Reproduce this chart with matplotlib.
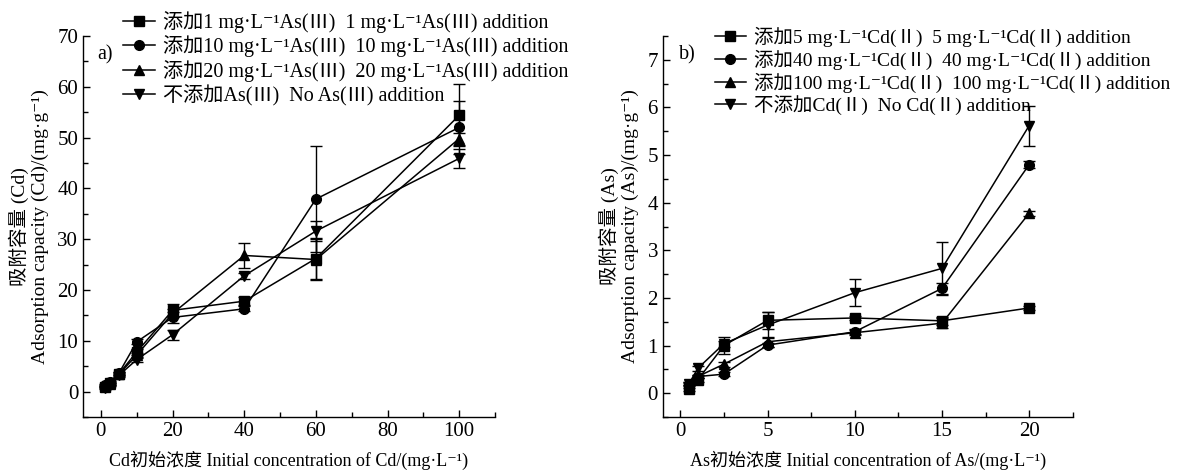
import matplotlib
matplotlib.use("Agg")
import matplotlib.pyplot as plt
from matplotlib.ticker import MultipleLocator

plt.rcParams['font.family'] = ['Liberation Serif', 'Noto Sans CJK SC', 'DejaVu Serif']
plt.rcParams['axes.unicode_minus'] = False

# ---------------- Panel a data ----------------
xa = [1, 2.5, 5, 10, 20, 40, 60, 100]
a_labels = ["添加1 mg·L⁻¹As(Ⅲ)  1 mg·L⁻¹As(Ⅲ) addition",
            "添加10 mg·L⁻¹As(Ⅲ)  10 mg·L⁻¹As(Ⅲ) addition",
            "添加20 mg·L⁻¹As(Ⅲ)  20 mg·L⁻¹As(Ⅲ) addition",
            "不添加As(Ⅲ)  No As(Ⅲ) addition"]
a_sq = [1.0, 1.6, 3.5, 7.8, 16.0, 17.8, 26.2, 54.4]
a_ci = [1.3, 1.8, 3.6, 9.8, 14.6, 16.3, 37.9, 52.0]
a_tr = [1.1, 1.5, 3.4, 7.2, 15.4, 26.8, 26.0, 49.8]
a_dn = [0.7, 1.3, 3.2, 6.3, 11.2, 22.8, 31.6, 45.9]
a_sq_err = [0.2, 0.2, 0.3, 0.5, 1.3, 0.8, 4.0, 6.1]
a_ci_err = [0.2, 0.2, 0.3, 0.5, 1.0, 0.5, 10.4, 5.2]
a_tr_err = [0.2, 0.2, 0.3, 0.5, 0.8, 2.5, 4.0, 1.2]
a_dn_err = [0.2, 0.2, 0.3, 0.5, 1.0, 0.6, 2.0, 1.8]

# ---------------- Panel b data ----------------
xb = [0.5, 1, 2.5, 5, 10, 15, 20]
b_labels = ["添加5 mg·L⁻¹Cd(Ⅱ)  5 mg·L⁻¹Cd(Ⅱ) addition",
            "添加40 mg·L⁻¹Cd(Ⅱ)  40 mg·L⁻¹Cd(Ⅱ) addition",
            "添加100 mg·L⁻¹Cd(Ⅱ)  100 mg·L⁻¹Cd(Ⅱ) addition",
            "不添加Cd(Ⅱ)  No Cd(Ⅱ) addition"]
b_sq = [0.08, 0.28, 1.00, 1.53, 1.58, 1.52, 1.79]
b_ci = [0.18, 0.35, 0.40, 1.01, 1.29, 2.20, 4.80]
b_tr = [0.20, 0.35, 0.61, 1.08, 1.27, 1.47, 3.78]
b_dn = [0.20, 0.52, 1.04, 1.43, 2.11, 2.62, 5.62]
b_sq_err = [0.03, 0.04, 0.17, 0.18, 0.04, 0.08, 0.05]
b_ci_err = [0.03, 0.04, 0.04, 0.05, 0.05, 0.12, 0.08]
b_tr_err = [0.03, 0.04, 0.05, 0.10, 0.05, 0.10, 0.05]
b_dn_err = [0.03, 0.05, 0.06, 0.28, 0.28, 0.55, 0.42]

markers = ['s', 'o', '^', 'v']

fig = plt.figure(figsize=(12.03, 4.71), dpi=100)
axa = fig.add_axes([0.069, 0.1146, 0.3425, 0.809])
axb = fig.add_axes([0.551, 0.1146, 0.3408, 0.809])


def style(ax):
    for s in ['top', 'right']:
        ax.spines[s].set_visible(False)
    for s in ['left', 'bottom']:
        ax.spines[s].set_linewidth(1.0)
    ax.tick_params(which='major', direction='in', length=5, width=1.0, labelsize=15)
    ax.tick_params(which='minor', direction='in', length=3.5, width=1.0)


def draw(ax, x, series, errs, labels):
    for y, e, m, lab in zip(series, errs, markers, labels):
        ax.errorbar(x, y, yerr=e, color='black', marker=m, markersize=7,
                    linewidth=1.1, elinewidth=1.0, capsize=4, capthick=1.0,
                    label=lab)


leg_kw = dict(loc='upper left', frameon=False, handlelength=1.6,
              handletextpad=0.4, labelspacing=0.13, borderpad=0.0, borderaxespad=0.0)

draw(axa, xa, [a_sq, a_ci, a_tr, a_dn], [a_sq_err, a_ci_err, a_tr_err, a_dn_err], a_labels)
style(axa)
axa.set_xlim(-5, 110)
axa.set_ylim(-5, 70)
axa.xaxis.set_major_locator(MultipleLocator(20))
axa.xaxis.set_minor_locator(MultipleLocator(10))
axa.yaxis.set_major_locator(MultipleLocator(10))
axa.yaxis.set_minor_locator(MultipleLocator(5))
axa.set_xlabel("Cd初始浓度 Initial concentration of Cd/(mg·L⁻¹)", fontsize=13, labelpad=7)
axa.set_ylabel("吸附容量 (Cd)\nAdsorption capacity (Cd)/(mg·g⁻¹)", fontsize=14, labelpad=6)
axa.text(0.053, 0.975, "a)", transform=axa.transAxes, fontsize=14.5, ha='center', va='top')
h, l = axa.get_legend_handles_labels()
h = [hh[0] for hh in h]
axa.legend(h, l, bbox_to_anchor=(0.097, 1.066), fontsize=14.5, **leg_kw)

draw(axb, xb, [b_sq, b_ci, b_tr, b_dn], [b_sq_err, b_ci_err, b_tr_err, b_dn_err], b_labels)
style(axb)
axb.set_xlim(-1, 22.5)
axb.set_ylim(-0.5, 7.5)
axb.xaxis.set_major_locator(MultipleLocator(5))
axb.xaxis.set_minor_locator(MultipleLocator(2.5))
axb.yaxis.set_major_locator(MultipleLocator(1))
axb.yaxis.set_minor_locator(MultipleLocator(0.5))
axb.set_xlabel("As初始浓度 Initial concentration of As/(mg·L⁻¹)", fontsize=13, labelpad=7)
axb.set_ylabel("吸附容量 (As)\nAdsorption capacity (As)/(mg·g⁻¹)", fontsize=14, labelpad=6)
axb.text(0.06, 0.975, "b)", transform=axb.transAxes, fontsize=14.5, ha='center', va='top')
h, l = axb.get_legend_handles_labels()
h = [hh[0] for hh in h]
axb.legend(h, l, bbox_to_anchor=(0.127, 1.024), fontsize=14, **leg_kw)

fig.savefig("out.png", dpi=100)
